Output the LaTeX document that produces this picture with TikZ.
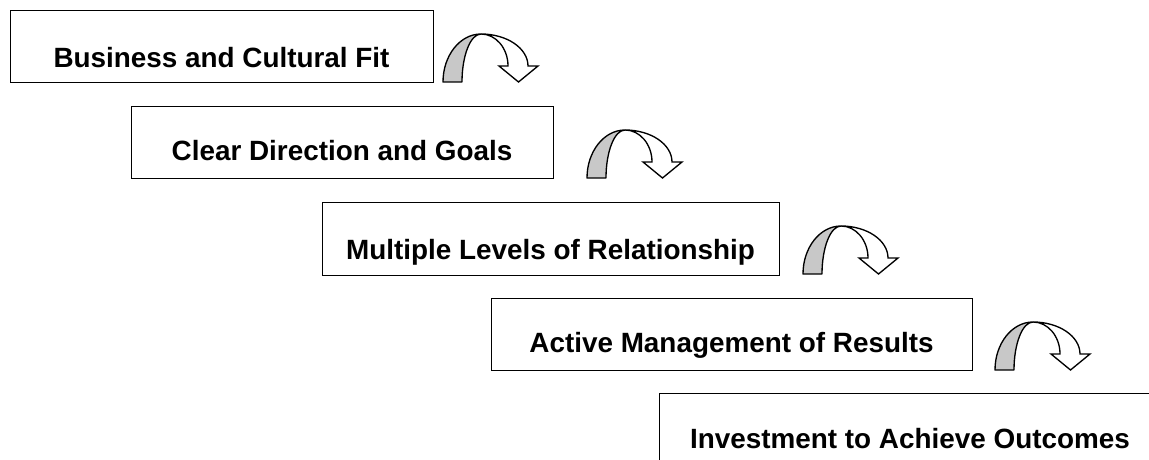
\documentclass[tikz,border=0pt]{standalone}
\usepackage{fontspec}
\setmainfont{Liberation Sans}
\definecolor{bandgray}{HTML}{C8C8C8}
\tikzset{
  stepbox/.style={draw=black, line width=1pt, fill=white, inner sep=0pt, anchor=north west},
  steptext/.style={inner sep=0pt, anchor=base, font=\fontsize{20.9pt}{24pt}\selectfont\bfseries},
  pics/curvarrow/.style={code={
    \filldraw[fill=bandgray, draw=black, line width=1pt, line join=round]
      (0,0) arc[start angle=180, end angle=270, x radius=38, y radius=48]
            arc[start angle=270, end angle=180, x radius=19, y radius=48] -- cycle;
    \filldraw[fill=white, draw=black, line width=1pt, line join=miter]
      (38,-48) arc[start angle=270, end angle=360, x radius=47, y radius=32]
      -- (95,-16) -- (75.5,0) -- (56,-16) -- (65,-16)
      arc[start angle=0, end angle=-90, x radius=27, y radius=32] -- cycle;
  }}
}
\begin{document}
\begin{tikzpicture}[x=0.75pt, y=-0.75pt]
\useasboundingbox (0,0) rectangle (1149,460);
\clip (0,0) rectangle (1149,460);

\node[stepbox, minimum width=423*0.75pt, minimum height=72*0.75pt] (b1) at (10,10) {};
\node[steptext] (t1) at (221.5,68) {Business and Cultural Fit};

\node[stepbox, minimum width=422*0.75pt, minimum height=72*0.75pt] (b2) at (131,106) {};
\node[steptext] (t2) at (342,160) {Clear Direction and Goals};

\node[stepbox, minimum width=457*0.75pt, minimum height=73*0.75pt] (b3) at (322,202) {};
\node[steptext] (t3) at (550.5,259) {Multiple Levels of Relationship};

\node[stepbox, minimum width=481*0.75pt, minimum height=72*0.75pt] (b4) at (491,298) {};
\node[steptext] (t4) at (731.5,352) {Active Management of Results};

\node[stepbox, minimum width=520*0.75pt, minimum height=90*0.75pt] (b5) at (659,393) {};
\node[steptext] (t5) at (910,448) {Investment to Achieve Outcomes};

\pic at (443,82) {curvarrow};
\pic at (587,178) {curvarrow};
\pic at (803,274) {curvarrow};
\pic at (995,370) {curvarrow};
\end{tikzpicture}
\end{document}
